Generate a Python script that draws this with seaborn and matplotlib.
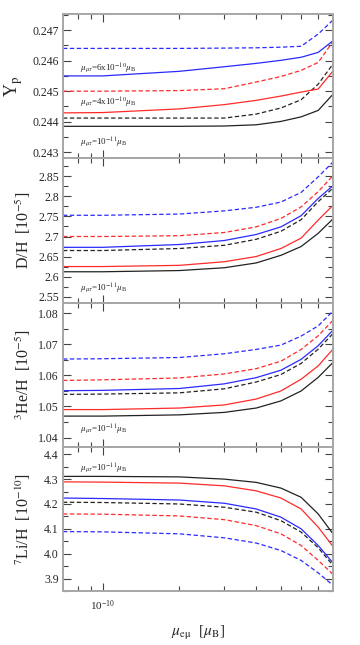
import numpy as np
import pandas as pd
import seaborn as sns
import matplotlib

matplotlib.use("Agg")
from matplotlib import pyplot as plt
from matplotlib.ticker import MultipleLocator, FuncFormatter, FixedLocator, NullFormatter

# magnetic moment mu_e-mu [mu_B]
mu_emu = [7e-11, 1e-10, 2e-10, 3e-10, 4e-10, 5e-10, 6e-10, 7e-10, 8e-10]

# Y_p
yp_k_solid = [0.24385, 0.24385, 0.24385, 0.24386, 0.24390, 0.24401, 0.24416, 0.24437, 0.24490]
yp_k_dash = [0.24412, 0.24412, 0.24412, 0.24412, 0.24425, 0.24445, 0.24472, 0.24523, 0.24589]
yp_r_solid = [0.24429, 0.24430, 0.24442, 0.24456, 0.24470, 0.24484, 0.24497, 0.24507, 0.24566]
yp_r_dash = [0.24500, 0.24500, 0.24502, 0.24508, 0.24530, 0.24548, 0.24568, 0.24594, 0.24663]
yp_b_solid = [0.24550, 0.24550, 0.24565, 0.24580, 0.24591, 0.24601, 0.24611, 0.24627, 0.24665]
yp_b_dash = [0.24640, 0.24640, 0.24640, 0.24641, 0.24642, 0.24644, 0.24647, 0.24687, 0.24733]

# D/H [1e-5]
dh_k_solid = [2.612, 2.612, 2.615, 2.622, 2.634, 2.653, 2.675, 2.708, 2.744]
dh_k_dash = [2.665, 2.665, 2.670, 2.678, 2.693, 2.713, 2.742, 2.787, 2.821]
dh_r_solid = [2.625, 2.625, 2.628, 2.637, 2.650, 2.670, 2.696, 2.741, 2.778]
dh_r_dash = [2.700, 2.700, 2.702, 2.710, 2.724, 2.745, 2.774, 2.812, 2.852]
dh_b_solid = [2.673, 2.673, 2.680, 2.690, 2.705, 2.724, 2.752, 2.795, 2.827]
dh_b_dash = [2.753, 2.753, 2.756, 2.764, 2.773, 2.786, 2.810, 2.849, 2.886]

# 3He/H [1e-5]
he_k_solid = [1.0469, 1.0469, 1.0473, 1.0481, 1.0495, 1.0518, 1.0550, 1.0594, 1.0642]
he_k_dash = [1.0539, 1.0540, 1.0544, 1.0557, 1.0579, 1.0603, 1.0639, 1.0685, 1.0735]
he_r_solid = [1.0490, 1.0490, 1.0495, 1.0505, 1.0524, 1.0550, 1.0588, 1.0631, 1.0685]
he_r_dash = [1.0584, 1.0586, 1.0592, 1.0605, 1.0622, 1.0646, 1.0684, 1.0728, 1.0778]
he_b_solid = [1.0551, 1.0552, 1.0558, 1.0573, 1.0593, 1.0617, 1.0652, 1.0696, 1.0746]
he_b_dash = [1.0653, 1.0654, 1.0658, 1.0670, 1.0684, 1.0698, 1.0727, 1.0760, 1.0808]

# 7Li/H [1e-10]
li_k_solid = [4.311, 4.311, 4.309, 4.300, 4.287, 4.264, 4.227, 4.160, 4.080]
li_k_dash = [4.207, 4.206, 4.200, 4.187, 4.167, 4.133, 4.087, 4.024, 3.953]
li_r_solid = [4.289, 4.288, 4.284, 4.273, 4.253, 4.224, 4.180, 4.107, 4.029]
li_r_dash = [4.160, 4.159, 4.152, 4.137, 4.113, 4.080, 4.033, 3.973, 3.917]
li_b_solid = [4.224, 4.222, 4.216, 4.203, 4.180, 4.147, 4.100, 4.033, 3.963]
li_b_dash = [4.089, 4.088, 4.080, 4.064, 4.043, 4.013, 3.973, 3.923, 3.873]

mu_mutau = ["1e-11", "4e-10", "6e-10"]
palette = {"1e-11": "#222222", "4e-10": "#ff2a2a", "6e-10": "#2a2aff"}

x_major = [1e-10]
x_minor = [8e-11, 9e-11, 2e-10, 3e-10, 4e-10, 5e-10, 6e-10, 7e-10]


def long_frame(series):
    rows = []
    for (mu, kind), vals in series.items():
        for x, v in zip(mu_emu, vals):
            rows.append({"x": x, "y": v, "mu": mu, "kind": kind})
    return pd.DataFrame(rows)


panels = [
    dict(series={("1e-11", "solid"): yp_k_solid, ("1e-11", "dash"): yp_k_dash,
                 ("4e-10", "solid"): yp_r_solid, ("4e-10", "dash"): yp_r_dash,
                 ("6e-10", "solid"): yp_b_solid, ("6e-10", "dash"): yp_b_dash},
         ylim=(0.2428, 0.24752), major=0.001, minor=0.0005, fmt="%.3f",
         label=r"Y$_{\rm p}$", lx=-0.14, lsize=13),
    dict(series={("1e-11", "solid"): dh_k_solid, ("1e-11", "dash"): dh_k_dash,
                 ("4e-10", "solid"): dh_r_solid, ("4e-10", "dash"): dh_r_dash,
                 ("6e-10", "solid"): dh_b_solid, ("6e-10", "dash"): dh_b_dash},
         ylim=(2.535, 2.895), major=0.05, minor=0.025, fmt="%g",
         label=r"D/H  [10$^{-5}$]", lx=-0.112, lsize=11.5),
    dict(series={("1e-11", "solid"): he_k_solid, ("1e-11", "dash"): he_k_dash,
                 ("4e-10", "solid"): he_r_solid, ("4e-10", "dash"): he_r_dash,
                 ("6e-10", "solid"): he_b_solid, ("6e-10", "dash"): he_b_dash},
         ylim=(1.037, 1.0835), major=0.01, minor=0.005, fmt="%.2f",
         label=r"$^3$He/H  [10$^{-5}$]", lx=-0.112, lsize=11.5),
    dict(series={("1e-11", "solid"): li_k_solid, ("1e-11", "dash"): li_k_dash,
                 ("4e-10", "solid"): li_r_solid, ("4e-10", "dash"): li_r_dash,
                 ("6e-10", "solid"): li_b_solid, ("6e-10", "dash"): li_b_dash},
         ylim=(3.85, 4.43), major=0.1, minor=0.05, fmt="%.1f",
         label=r"$^7$Li/H  [10$^{-10}$]", lx=-0.112, lsize=11.5),
]

sns.set_style("ticks")
plt.rcParams["font.family"] = ["Liberation Serif", "DejaVu Serif"]
plt.rcParams["mathtext.fontset"] = "stix"

fig, axes = plt.subplots(4, 1, figsize=(3.6, 6.45), dpi=100, sharex=True)
fig.subplots_adjust(left=0.175, right=0.925, top=0.978, bottom=0.0837, hspace=0)

spine_c = "#a6a6a6"
for ax, p in zip(axes, panels):
    df = long_frame(p["series"])
    sns.lineplot(data=df, x="x", y="y", hue="mu", style="kind", palette=palette,
                 dashes={"solid": "", "dash": (3.5, 2)}, hue_order=mu_mutau,
                 style_order=["solid", "dash"], linewidth=0.9, legend=False,
                 estimator=None, ax=ax)
    ax.set_xscale("log")
    ax.set_xlim(7e-11, 8e-10)
    ax.set_ylim(*p["ylim"])
    ax.yaxis.set_major_locator(MultipleLocator(p["major"]))
    ax.yaxis.set_minor_locator(MultipleLocator(p["minor"]))
    ax.yaxis.set_major_formatter(FuncFormatter(lambda v, pos, f=p["fmt"]: f % v))
    ax.xaxis.set_major_locator(FixedLocator(x_major))
    ax.xaxis.set_minor_locator(FixedLocator(x_minor))
    ax.xaxis.set_minor_formatter(NullFormatter())
    ax.set_xlabel("")
    ax.set_ylabel(p["label"], fontsize=p["lsize"])
    ax.yaxis.set_label_coords(p["lx"], 0.5)
    for s in ax.spines.values():
        s.set_color(spine_c)
        s.set_linewidth(1.4)
    ax.tick_params(which="both", direction="in", top=True, right=True,
                   color="#444444", labelsize=8.5, width=0.8, pad=3)
    ax.tick_params(which="major", length=6)
    ax.tick_params(which="minor", length=3.5)

note = r"$\mu_{\mu\tau}$=%s$\mu_{\rm B}$"
ax0 = axes[0]
ax0.text(0.063, 0.625, note % r"6x10$^{-10}$", transform=ax0.transAxes, fontsize=6.5, va="center")
ax0.text(0.063, 0.389, note % r"4x10$^{-10}$", transform=ax0.transAxes, fontsize=6.5, va="center")
ax0.text(0.063, 0.111, note % r"10$^{-11}$", transform=ax0.transAxes, fontsize=6.5, va="center")
axes[1].text(0.063, 0.104, note % r"10$^{-11}$", transform=axes[1].transAxes, fontsize=6.5, va="center")
axes[2].text(0.063, 0.125, note % r"10$^{-11}$", transform=axes[2].transAxes, fontsize=6.5, va="center")
axes[3].text(0.063, 0.854, note % r"10$^{-11}$", transform=axes[3].transAxes, fontsize=6.5, va="center")

axes[-1].set_xlabel(r"$\mu_{\rm e\mu}$  [$\mu_{\rm B}$]", fontsize=11, labelpad=8)
axes[-1].tick_params(axis="x", labelsize=8, pad=5)

fig.savefig("out.png", dpi=100)
